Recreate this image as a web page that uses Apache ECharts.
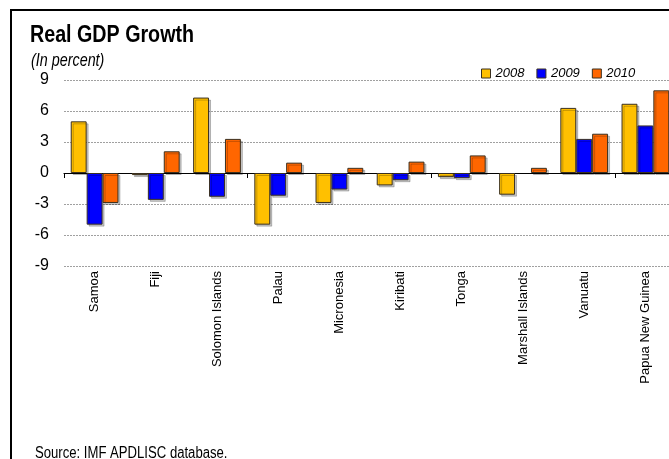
<!DOCTYPE html>
<html>
<head>
<meta charset="utf-8">
<script src="https://cdn.jsdelivr.net/npm/echarts@6/dist/echarts.min.js"></script>
<style>
html, body { margin: 0; padding: 0; overflow: hidden; background: #fff; }
#chart { width: 680px; height: 459px; }
</style>
</head>
<body>
<div id="chart"></div>
<script>
var categories = ['Samoa', 'Fiji', 'Solomon Islands', 'Palau', 'Micronesia', 'Kiribati', 'Tonga', 'Marshall Islands', 'Vanuatu', 'Papua New Guinea'];
var g2008 = [5.0, -0.2, 7.3, -5.0, -2.9, -1.2, -0.4, -2.1, 6.3, 6.7];
var g2009 = [-5.0, -2.6, -2.3, -2.2, -1.6, -0.7, -0.5, null, 3.3, 4.6];
var g2010 = [-2.9, 2.1, 3.3, 1.0, 0.5, 1.1, 1.7, 0.5, 3.8, 8.0];
var seriesNames = ['2008', '2009', '2010'];
var yTicks = [-9, -6, -3, 0, 3, 6, 9];
var titleText = 'Real GDP Growth';
var subtitleText = '(In percent)';
var sourceText = 'Source: IMF APDLISC database.';

var REG = '"Liberation Sans", Arial, sans-serif';
var colors = ['#FFC000', '#0000FF', '#FF6600'];

function barSeries(name, data, color) {
  return {
    name: name,
    type: 'bar',
    data: data,
    barGap: '0%',
    barCategoryGap: '22%',
    itemStyle: {
      color: color,
      borderColor: '#3a3020',
      borderWidth: 1,
      shadowColor: 'rgba(0,0,0,0.22)',
      shadowBlur: 0,
      shadowOffsetX: 2,
      shadowOffsetY: 2
    },
    emphasis: { disabled: true }
  };
}

function condensedText(text, x, y, font) {
  return {
    type: 'text', silent: true, x: x, y: y, scaleX: 0.82, scaleY: 1,
    style: { text: text, font: font, fill: '#000', align: 'left', verticalAlign: 'top' }
  };
}

var chart = echarts.init(document.getElementById('chart'), null, { renderer: 'canvas' });
chart.setOption({
  animation: false,
  backgroundColor: '#fff',
  legend: {
    data: seriesNames,
    left: 481, top: 67, padding: 0,
    itemWidth: 9, itemHeight: 9, itemGap: 12,
    icon: 'rect',
    itemStyle: { shadowColor: 'transparent', shadowOffsetX: 0, shadowOffsetY: 0, borderColor: '#3a3020', borderWidth: 1 },
    textStyle: { fontFamily: REG, fontStyle: 'italic', fontSize: 13, color: '#000' }
  },
  graphic: [
    { type: 'rect', silent: true, z: 100,
      shape: { x: 11, y: 10, width: 720, height: 520 },
      style: { fill: 'none', stroke: '#000', lineWidth: 2 } },
    condensedText(titleText, 30, 23, 'bold 24px "Liberation Sans", Arial, sans-serif'),
    condensedText(subtitleText, 31, 52, 'italic 17.5px "Liberation Sans", Arial, sans-serif'),
    condensedText(sourceText, 35, 446, '16px "Liberation Sans", Arial, sans-serif')
  ],
  grid: { left: 64, right: 4, top: 80, bottom: 193, containLabel: false },
  xAxis: [
    { type: 'category', data: categories, position: 'bottom',
      axisLine: { show: true, onZero: true, lineStyle: { color: '#000', width: 1.2 } },
      axisTick: { show: true, length: 5, lineStyle: { color: '#000', width: 1 } },
      axisLabel: { show: false },
      splitLine: { show: false } },
    { type: 'category', data: categories, position: 'bottom',
      axisLine: { show: false, onZero: false },
      axisTick: { show: false },
      axisLabel: { show: true, rotate: 90, margin: 5, fontFamily: REG, fontSize: 13, color: '#000', interval: 0 },
      splitLine: { show: false } }
  ],
  yAxis: {
    type: 'value', min: -9, max: 9, interval: 3,
    axisLine: { show: false },
    axisTick: { show: false },
    axisLabel: { margin: 15, fontFamily: REG, fontSize: 16, color: '#000',
      customValues: yTicks },
    splitLine: { show: true, lineStyle: { color: '#a0a0a0', type: [2, 1], width: 1 } }
  },
  series: [
    barSeries(seriesNames[0], g2008, colors[0]),
    barSeries(seriesNames[1], g2009, colors[1]),
    barSeries(seriesNames[2], g2010, colors[2])
  ]
});
</script>
</body>
</html>
